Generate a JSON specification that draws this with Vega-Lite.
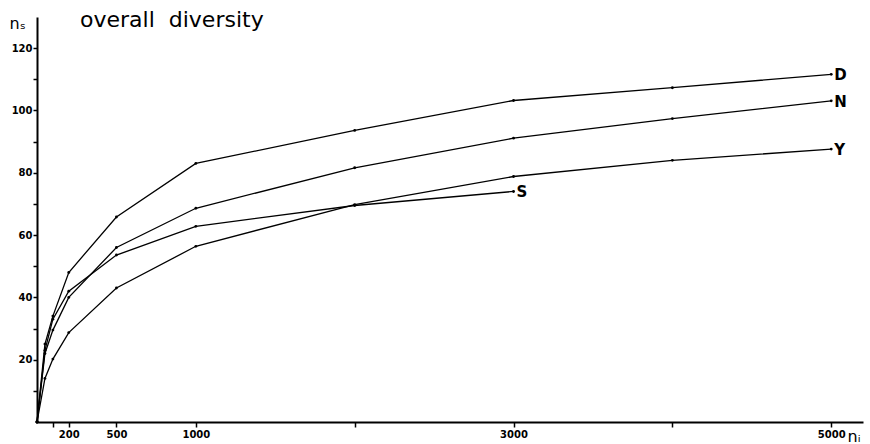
{
  "$schema": "https://vega.github.io/schema/vega-lite/v6.json",
  "width": 826,
  "height": 405,
  "autosize": {"type": "none"},
  "padding": {"left": 37, "top": 17, "right": 7, "bottom": 22},
  "background": "white",
  "config": {
    "view": {"stroke": null},
    "font": "DejaVu Sans",
    "axis": {"grid": false, "domainColor": "black", "tickColor": "black", "labelColor": "black", "titleColor": "black"}
  },
  "title": {
    "text": "overall\u00a0\u00a0diversity",
    "anchor": "start",
    "frame": "group",
    "dx": 43,
    "dy": 34,
    "offset": 0,
    "baseline": "alphabetic",
    "font": "DejaVu Sans",
    "fontSize": 22,
    "fontWeight": "normal",
    "color": "black"
  },
  "data": {
    "values": [
      {"series": "D", "ni": 0, "ns": 0},
      {"series": "D", "ni": 50, "ns": 25},
      {"series": "D", "ni": 100, "ns": 34},
      {"series": "D", "ni": 200, "ns": 48},
      {"series": "D", "ni": 500, "ns": 65.8},
      {"series": "D", "ni": 1000, "ns": 83},
      {"series": "D", "ni": 2000, "ns": 93.6},
      {"series": "D", "ni": 3000, "ns": 103.2},
      {"series": "D", "ni": 4000, "ns": 107.3},
      {"series": "D", "ni": 5000, "ns": 111.6},
      {"series": "N", "ni": 0, "ns": 0},
      {"series": "N", "ni": 50, "ns": 22},
      {"series": "N", "ni": 100, "ns": 29.5},
      {"series": "N", "ni": 200, "ns": 40},
      {"series": "N", "ni": 500, "ns": 56},
      {"series": "N", "ni": 1000, "ns": 68.6},
      {"series": "N", "ni": 2000, "ns": 81.6},
      {"series": "N", "ni": 3000, "ns": 91.1},
      {"series": "N", "ni": 4000, "ns": 97.4},
      {"series": "N", "ni": 5000, "ns": 103.1},
      {"series": "S", "ni": 0, "ns": 0},
      {"series": "S", "ni": 50, "ns": 23},
      {"series": "S", "ni": 100, "ns": 33},
      {"series": "S", "ni": 200, "ns": 42},
      {"series": "S", "ni": 500, "ns": 53.6},
      {"series": "S", "ni": 1000, "ns": 62.8},
      {"series": "S", "ni": 2000, "ns": 69.5},
      {"series": "S", "ni": 3000, "ns": 74},
      {"series": "Y", "ni": 0, "ns": 0},
      {"series": "Y", "ni": 50, "ns": 14},
      {"series": "Y", "ni": 100, "ns": 20.2},
      {"series": "Y", "ni": 200, "ns": 28.7},
      {"series": "Y", "ni": 500, "ns": 43},
      {"series": "Y", "ni": 1000, "ns": 56.4},
      {"series": "Y", "ni": 2000, "ns": 69.8},
      {"series": "Y", "ni": 3000, "ns": 78.8},
      {"series": "Y", "ni": 4000, "ns": 84},
      {"series": "Y", "ni": 5000, "ns": 87.6}
    ]
  },
  "encoding": {
    "x": {
      "field": "ni",
      "type": "quantitative",
      "scale": {"domain": [0, 5200], "nice": false, "zero": true},
      "axis": {
        "values": [100, 200, 500, 1000, 2000, 3000, 4000, 5000],
        "labelExpr": "(datum.value == 100 || datum.value == 2000 || datum.value == 4000) ? '' : datum.value",
        "domainWidth": 2,
        "tickWidth": 1.5,
        "tickSize": 5,
        "labelPadding": 2,
        "labelFont": "DejaVu Sans",
        "labelFontWeight": "bold",
        "labelFontSize": 10,
        "title": "nᵢ",
        "titleFont": "DejaVu Sans",
        "titleFontSize": 16,
        "titleFontWeight": "normal",
        "titleAngle": 0,
        "titleAlign": "left",
        "titleBaseline": "alphabetic",
        "titleX": 810,
        "titleY": 19
      }
    },
    "y": {
      "field": "ns",
      "type": "quantitative",
      "scale": {"domain": [0, 130], "nice": false},
      "axis": {
        "values": [10, 20, 30, 40, 50, 60, 70, 80, 90, 100, 110, 120],
        "labelExpr": "datum.value % 20 == 0 ? datum.label : ''",
        "domainWidth": 2,
        "tickWidth": 1.5,
        "tickSize": 4,
        "labelPadding": 1,
        "labelFont": "DejaVu Sans",
        "labelFontWeight": "bold",
        "labelFontSize": 10,
        "title": "nₛ",
        "titleFont": "DejaVu Sans",
        "titleFontSize": 16,
        "titleFontWeight": "normal",
        "titleAngle": 0,
        "titleAlign": "left",
        "titleBaseline": "alphabetic",
        "titleX": -28,
        "titleY": 11
      }
    }
  },
  "layer": [
    {
      "mark": {"type": "line", "color": "black", "strokeWidth": 1.3, "point": {"filled": true, "color": "black", "size": 8}},
      "encoding": {"detail": {"field": "series"}}
    },
    {
      "transform": [
        {"joinaggregate": [{"op": "max", "field": "ni", "as": "maxni"}], "groupby": ["series"]},
        {"filter": "datum.ni == datum.maxni"}
      ],
      "mark": {"type": "text", "align": "left", "baseline": "middle", "dx": 3, "dy": 1, "fontSize": 15, "fontWeight": "bold", "font": "DejaVu Sans", "color": "black"},
      "encoding": {"text": {"field": "series"}}
    }
  ]
}
